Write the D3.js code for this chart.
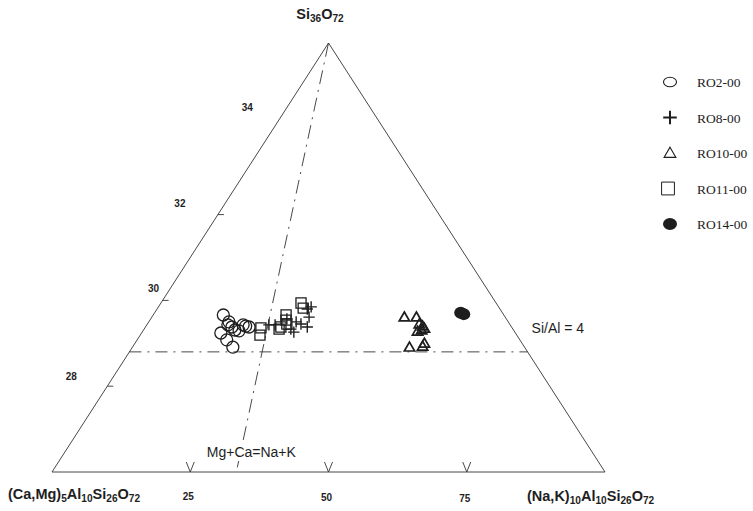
<!DOCTYPE html>
<html>
<head>
<meta charset="utf-8">
<script src="https://cdn.jsdelivr.net/npm/d3@7"></script>
<style>
  body { margin: 0; background: #fff; }
  svg { display: block; }
</style>
</head>
<body>
<div id="chart"></div>
<script>
const width = 753, height = 511;

// each point: [(Na,K) share of the base in %, Si per 72 O]
const ro2_00 = [[20.0, 29.66], [22.3, 29.43], [21.2, 29.24], [23.4, 29.08], [25.6, 28.91], [23.6, 29.38],
    [26.5, 29.43], [27.3, 29.40], [28.3, 29.38], [24.7, 29.31], [25.9, 29.29], [22.3, 29.50]];
const ro8_00 = [[33.6, 29.43], [35.3, 29.43], [39.8, 29.33], [40.7, 29.26], [43.8, 29.80], [44.9, 29.85],
    [44.5, 29.61], [42.4, 29.45], [44.2, 29.38], [38.3, 29.57], [41.0, 29.50]];
const ro10_00 = [[71.4, 29.59], [74.8, 29.59], [75.0, 29.43], [75.7, 29.38], [75.1, 29.29], [73.9, 29.26],
    [76.0, 29.33], [70.6, 28.89], [74.0, 28.91], [74.7, 28.98]];
const ro11_00 = [[31.6, 29.36], [31.8, 29.19], [37.0, 29.38], [37.9, 29.66], [38.1, 29.54], [38.5, 29.45],
    [41.8, 29.94], [42.6, 29.82], [36.6, 29.33]];
const ro14_00 = [[88.0, 29.71], [88.7, 29.68]];

const seriesNames = ["RO2-00", "RO8-00", "RO10-00", "RO11-00", "RO14-00"];
const seriesData = [ro2_00, ro8_00, ro10_00, ro11_00, ro14_00];

const siTicks = [28, 30, 32, 34];
const baseTicks = [25, 50, 75];
const siAlLine = 28.8;        // Si/Al = 4
const mgCaLine = 100 / 3;     // Mg+Ca = Na+K

const svg = d3.select("#chart").append("svg")
    .attr("width", width)
    .attr("height", height);

const ink = "#1e1e1e";
const sans = "Liberation Sans, Arial, sans-serif";

const baseX = d3.scaleLinear().domain([0, 100]).range([52, 605]);
const yScale = d3.scaleLinear().domain([26, 36]).range([472, 43]);
const share = d3.scaleLinear().domain([26, 36]).range([0, 1]);
const apexX = baseX(50);

function project(nak, si) {
    const t = share(si);
    return [(1 - t) * baseX(nak) + t * apexX, yScale(si)];
}

// triangle frame
const frame = [project(0, 26), project(0, 36), project(100, 26)];
svg.append("path")
    .attr("d", d3.line()(frame) + "Z")
    .attr("fill", "none")
    .attr("stroke", "#333")
    .attr("stroke-width", 0.9);

// reference lines
svg.append("path")
    .attr("d", d3.line()([project(0, siAlLine), project(100, siAlLine)]))
    .attr("stroke", "#333").attr("stroke-width", 0.9)
    .attr("stroke-dasharray", "12,6,2,6");

svg.append("path")
    .attr("d", d3.line()([project(mgCaLine, 36), project(mgCaLine, 26)]))
    .attr("stroke", "#333").attr("stroke-width", 0.9)
    .attr("stroke-dasharray", "14,6,2,6");

// Si ticks on the left edge
const siLabelShift = [[-36, -6], [-9, -8], [-38, -8], [-26, -18]];
siTicks.forEach((s, i) => {
    const p = project(0, s);
    if (s < 34) {
        svg.append("line")
            .attr("x1", p[0]).attr("x2", p[0] + 6)
            .attr("y1", p[1]).attr("y2", p[1])
            .attr("stroke", "#333").attr("stroke-width", 0.9);
    }
    svg.append("text")
        .attr("x", p[0] + siLabelShift[i][0])
        .attr("y", p[1] + siLabelShift[i][1])
        .attr("text-anchor", "middle")
        .attr("font-family", sans)
        .attr("font-weight", "bold")
        .attr("font-size", 10)
        .attr("fill", ink)
        .text(s);
});

// base ticks
baseTicks.forEach((v, i) => {
    const x = baseX(v), y = yScale(26);
    svg.append("path")
        .attr("d", d3.line()([[x - 4, y - 10], [x, y], [x + 4, y - 10]]))
        .attr("fill", "none").attr("stroke", "#333").attr("stroke-width", 0.9);
    svg.append("text")
        .attr("x", x - 2)
        .attr("y", y + 28 + i)
        .attr("text-anchor", "middle")
        .attr("font-family", sans)
        .attr("font-weight", "bold")
        .attr("font-size", 10)
        .attr("fill", ink)
        .text(v);
});

// corner labels
const corner = (x, y, parts, anchor, size) => {
    const t = svg.append("text")
        .attr("x", x).attr("y", y)
        .attr("text-anchor", anchor)
        .attr("font-family", sans)
        .attr("font-weight", "bold")
        .attr("fill", ink);
    parts.forEach(p => {
        t.append("tspan")
            .attr("font-size", p[1] ? size * 0.7 : size)
            .attr("baseline-shift", p[1] ? "-25%" : null)
            .text(p[0]);
    });
};
corner(320, 19, [["Si", 0], ["36", 1], ["O", 0], ["72", 1]], "middle", 14.5);
corner(8, 499, [["(Ca,Mg)", 0], ["5", 1], ["Al", 0], ["10", 1], ["Si", 0], ["26", 1], ["O", 0], ["72", 1]], "start", 14.5);
corner(527, 501, [["(Na,K)", 0], ["10", 1], ["Al", 0], ["10", 1], ["Si", 0], ["26", 1], ["O", 0], ["72", 1]], "start", 14.5);

// line labels
const mgCaBase = project(mgCaLine, 26);
svg.append("rect")
    .attr("x", mgCaBase[0] - 34).attr("y", mgCaBase[1] - 28)
    .attr("width", 100).attr("height", 17)
    .attr("fill", "#fff");
svg.append("text")
    .attr("x", mgCaBase[0] + 15).attr("y", mgCaBase[1] - 15)
    .attr("text-anchor", "middle")
    .attr("font-family", sans)
    .attr("font-size", 14)
    .attr("fill", ink)
    .text("Mg+Ca=Na+K");

const siAlEnd = project(100, siAlLine);
svg.append("text")
    .attr("x", siAlEnd[0] + 4).attr("y", siAlEnd[1] - 19)
    .attr("font-family", sans)
    .attr("font-size", 14)
    .attr("fill", ink)
    .text("Si/Al = 4");

// markers
const shapes = [
    { type: d3.symbolCircle, size: 113, sw: 1.3 },
    { type: d3.symbolPlus, size: 44, sw: 1.4 },
    { type: d3.symbolTriangle2, size: 76, sw: 1.7 },
    { type: d3.symbolSquare2, size: 130, sw: 1.3 },
    null
];

seriesData.forEach((pts, i) => {
    const g = svg.append("g").attr("class", "series");
    pts.forEach(d => {
        const p = project(d[0], d[1]);
        if (shapes[i]) {
            g.append("path")
                .attr("d", d3.symbol(shapes[i].type, shapes[i].size)())
                .attr("transform", "translate(" + p[0] + "," + p[1] + ")")
                .attr("fill", "none")
                .attr("stroke", ink)
                .attr("stroke-width", shapes[i].sw);
        } else {
            g.append("ellipse")
                .attr("cx", p[0]).attr("cy", p[1])
                .attr("rx", 6.5).attr("ry", 6)
                .attr("fill", ink);
        }
    });
});

// legend
const legendY = d3.scalePoint().domain(seriesNames).range([82, 224]);
seriesNames.forEach((name, i) => {
    const y = legendY(name);
    const x = 670;
    if (i === 0) {
        svg.append("ellipse").attr("cx", x).attr("cy", y).attr("rx", 6.5).attr("ry", 4.8)
            .attr("fill", "none").attr("stroke", ink).attr("stroke-width", 1.1);
    } else if (i === 1) {
        svg.append("path").attr("d", d3.symbol(d3.symbolPlus, 62)())
            .attr("transform", "translate(" + x + "," + y + ")")
            .attr("stroke", ink).attr("stroke-width", 2).attr("fill", "none");
    } else if (i === 2) {
        svg.append("path").attr("d", d3.symbol(d3.symbolTriangle2, 100)())
            .attr("transform", "translate(" + x + "," + (y + 1) + ")")
            .attr("stroke", ink).attr("stroke-width", 1.1).attr("fill", "none");
    } else if (i === 3) {
        svg.append("path").attr("d", d3.symbol(d3.symbolSquare2, 210)())
            .attr("transform", "translate(" + (x - 2) + "," + y + ")")
            .attr("stroke", ink).attr("stroke-width", 1).attr("fill", "none");
    } else {
        svg.append("ellipse").attr("cx", x).attr("cy", y).attr("rx", 7).attr("ry", 6)
            .attr("fill", ink);
    }
    svg.append("text")
        .attr("x", 697).attr("y", y + 5)
        .attr("font-family", "Liberation Serif, Times New Roman, serif")
        .attr("font-size", 13.5)
        .attr("fill", ink)
        .text(name);
});
</script>
</body>
</html>
